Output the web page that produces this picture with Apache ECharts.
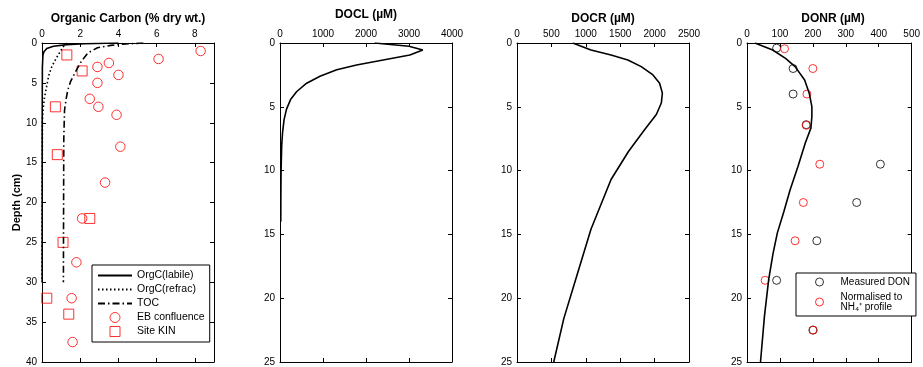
<!DOCTYPE html>
<html>
<head>
<meta charset="utf-8">
<script src="https://cdn.jsdelivr.net/npm/echarts@6/dist/echarts.min.js"></script>
</head>
<body style="margin:0">
<div id="container" style="width:923px;height:367px"></div>
<script>
// panel 1 - organic carbon (% dry wt.) against depth (cm)
var labileDepth = [0, 0.1, 0.2, 0.4, 0.7, 1.1, 1.5, 3, 10, 30];
var labileValue = [4.0, 2.2, 1.3, 0.6, 0.25, 0.1, 0.05, 0.02, 0.01, 0.01];
var refracDepth = [0, 0.5, 1.6, 2.9, 4.1, 5.6, 7, 8.5, 10, 30];
var refracValue = [1.3, 1.1, 0.82, 0.52, 0.35, 0.23, 0.12, 0.05, 0.02, 0];
var tocDepth = [0, 0.15, 0.3, 0.6, 1.25, 2.3, 3.4, 4.8, 5.9, 6.9, 8.4, 12, 20, 30];
var tocValue = [5.3, 4.2, 3.6, 2.9, 2.4, 2.06, 1.8, 1.5, 1.35, 1.27, 1.18, 1.14, 1.13, 1.12];
var ebDepth = [1, 2, 2.5, 3, 4, 5, 7, 8, 9, 13, 17.5, 22, 27.5, 32, 37.5];
var ebValue = [8.3, 6.1, 3.5, 2.9, 4.0, 2.9, 2.5, 2.95, 3.9, 4.1, 3.3, 2.1, 1.8, 1.55, 1.6];
var kinDepth = [1.5, 3.5, 8, 14, 22, 25, 32, 34];
var kinValue = [1.3, 2.1, 0.7, 0.8, 2.5, 1.1, 0.25, 1.4];

// panel 2 - DOCL (uM)
var doclDepth = [0, 0.25, 0.55, 0.94, 1.33, 1.72, 2.1, 2.6, 3.15, 3.8, 4.4, 5.2, 6, 7, 8, 10, 12, 14];
var doclValue = [2200, 3000, 3320, 3020, 2400, 1780, 1320, 930, 620, 390, 250, 150, 95, 60, 40, 25, 20, 18];

// panel 3 - DOCR (uM)
var docrDepth = [0, 0.55, 0.94, 1.33, 1.85, 2.5, 3.15, 3.93, 4.7, 5.6, 6.8, 8.5, 10.7, 14.6, 18.5, 21.6, 25];
var docrValue = [810, 1075, 1367, 1611, 1806, 1976, 2073, 2113, 2098, 2025, 1854, 1620, 1367, 1075, 855, 680, 534];

// panel 4 - DONR (uM)
var donrDepth = [0, 0.55, 1.2, 1.85, 2.9, 3.93, 4.98, 5.76, 6.67, 7.84, 9.66, 11.5, 13.2, 14.9, 16.5, 18.5, 21.4, 25];
var donrValue = [24, 78, 117, 146, 175, 189, 197, 197, 194, 177, 155, 131, 112, 92, 79, 66, 53, 41];
var donDepth = [0.4, 2, 4, 6.4, 9.5, 12.5, 15.5, 18.6, 22.5];
var donValue = [90, 140, 140, 180, 405, 333, 212, 90, 200];
var nh4Depth = [0.45, 2, 4, 6.45, 9.5, 12.5, 15.5, 18.6, 22.5];
var nh4Value = [114, 200, 182, 180, 221, 171, 146, 55, 201];

var titles = ['Organic Carbon (% dry wt.)', 'DOCL (\u00b5M)', 'DOCR (\u00b5M)', 'DONR (\u00b5M)'];
var xMax = [9, 4000, 2500, 500];
var xStep = [2, 1000, 500, 100];
var yMax = [40, 25, 25, 25];

var fontFam = '"Liberation Sans", Arial, Helvetica, sans-serif';
var lefts = [42, 280, 517, 747];
var titleY = [19, 15, 19, 19];
var squarePath = 'path://M0,0L10,0L10,10L0,10Z';

function pairs(xs, ys) {
    var out = [];
    for (var i = 0; i < xs.length; i++) out.push([xs[i], ys[i]]);
    return out;
}
function plain(v) { return String(v); }

var grids = [], xAxes = [], yAxes = [], graphics = [];
for (var i = 0; i < 4; i++) {
    grids.push({left: lefts[i], top: 43, width: 172, height: 320});
    var tick = {show: true, inside: true, length: 4, lineStyle: {color: '#000'}};
    var line = {show: true, onZero: false, lineStyle: {color: '#000', width: 1}};
    xAxes.push({
        gridIndex: i, type: 'value', position: 'top', min: 0, max: xMax[i], interval: xStep[i],
        axisLine: line, axisTick: tick, splitLine: {show: false},
        axisLabel: {margin: 4, color: '#000', fontSize: 10, fontFamily: fontFam, formatter: plain,
            showMaxLabel: xMax[i] % xStep[i] === 0}
    });
    xAxes.push({
        gridIndex: i, type: 'value', position: 'bottom', min: 0, max: xMax[i], interval: xStep[i],
        axisLine: line, axisTick: tick, splitLine: {show: false}, axisLabel: {show: false}
    });
    yAxes.push({
        gridIndex: i, type: 'value', position: 'left', inverse: true, min: 0, max: yMax[i], interval: 5,
        axisLine: line, axisTick: tick, splitLine: {show: false},
        axisLabel: {margin: 5, color: '#000', fontSize: 10, fontFamily: fontFam, formatter: plain},
        name: i === 0 ? 'Depth (cm)' : '', nameLocation: 'middle', nameGap: 19,
        nameTextStyle: {fontWeight: 'bold', fontSize: 11, color: '#000', fontFamily: fontFam}
    });
    yAxes.push({
        gridIndex: i, type: 'value', position: 'right', inverse: true, min: 0, max: yMax[i], interval: 5,
        axisLine: line, axisTick: tick, splitLine: {show: false}, axisLabel: {show: false}
    });
    graphics.push({
        type: 'text', x: lefts[i] + 86, y: titleY[i],
        style: {text: titles[i], align: 'center', verticalAlign: 'middle', textAlign: 'center',
            textVerticalAlign: 'middle', font: 'bold 12px ' + fontFam, fill: '#000'}
    });
}

function curve(name, xs, ys, gi, type) {
    return {
        name: name, type: 'line', xAxisIndex: gi * 2, yAxisIndex: gi * 2, symbol: 'none',
        data: pairs(xs, ys), lineStyle: {color: '#000', width: 1.6, type: type || 'solid'},
        itemStyle: {color: '#000'}
    };
}
function dots(name, xs, ys, gi, sym, size, col) {
    return {
        name: name, type: 'scatter', xAxisIndex: gi * 2, yAxisIndex: gi * 2, symbol: sym, symbolSize: size,
        data: pairs(xs, ys),
        itemStyle: {color: 'rgba(0,0,0,0)', borderColor: col, borderWidth: 1}
    };
}

var series = [
    curve('OrgC(labile)', labileValue, labileDepth, 0),
    curve('OrgC(refrac)', refracValue, refracDepth, 0, [1.5, 2.5]),
    curve('TOC', tocValue, tocDepth, 0, [7, 3, 1.5, 3]),
    dots('EB confluence', ebValue, ebDepth, 0, 'circle', 9.5, '#ff0000'),
    dots('Site KIN', kinValue, kinDepth, 0, squarePath, 10, '#ff0000'),
    curve('DOCL', doclValue, doclDepth, 1),
    curve('DOCR', docrValue, docrDepth, 2),
    curve('DONR', donrValue, donrDepth, 3),
    dots('Measured DON', donValue, donDepth, 3, 'circle', 8, '#000'),
    dots('Normalised', nh4Value, nh4Depth, 3, 'circle', 8, '#ff0000')
];

var noMark = {color: 'rgba(0,0,0,0)', opacity: 0, borderWidth: 0};
function ring(col) { return {color: 'rgba(0,0,0,0)', borderColor: col, borderWidth: 1}; }

var myChart = echarts.init(document.getElementById('container'));
myChart.setOption({
    animation: false,
    backgroundColor: '#fff',
    grid: grids,
    xAxis: xAxes,
    yAxis: yAxes,
    graphic: graphics,
    legend: [{
        orient: 'vertical', left: 92, top: 265, padding: [5, 5, 5, 5],
        borderColor: '#000', borderWidth: 1, backgroundColor: '#fff',
        itemWidth: 34, itemHeight: 10, itemGap: 3,
        textStyle: {fontSize: 10.5, color: '#000', fontFamily: fontFam, lineHeight: 10},
        data: [
            {name: 'OrgC(labile)', itemStyle: noMark},
            {name: 'OrgC(refrac)', itemStyle: noMark},
            {name: 'TOC', itemStyle: noMark},
            {name: 'EB confluence', icon: 'circle', itemStyle: ring('#ff0000')},
            {name: 'Site KIN', icon: squarePath, itemStyle: ring('#ff0000')}
        ]
    }, {
        orient: 'vertical', left: 796, top: 273, padding: [4, 6, 4, 19],
        borderColor: '#000', borderWidth: 1, backgroundColor: '#fff',
        itemWidth: 32, itemHeight: 8, itemGap: 5,
        textStyle: {fontSize: 10, color: '#000', fontFamily: fontFam, lineHeight: 10},
        formatter: function (name) {
            return name === 'Normalised' ? 'Normalised to\nNH\u2084\u207a profile' : name;
        },
        data: [
            {name: 'Measured DON', icon: 'circle', itemStyle: ring('#000')},
            {name: 'Normalised', icon: 'circle', itemStyle: ring('#ff0000')}
        ]
    }],
    series: series
});
</script>
</body>
</html>
